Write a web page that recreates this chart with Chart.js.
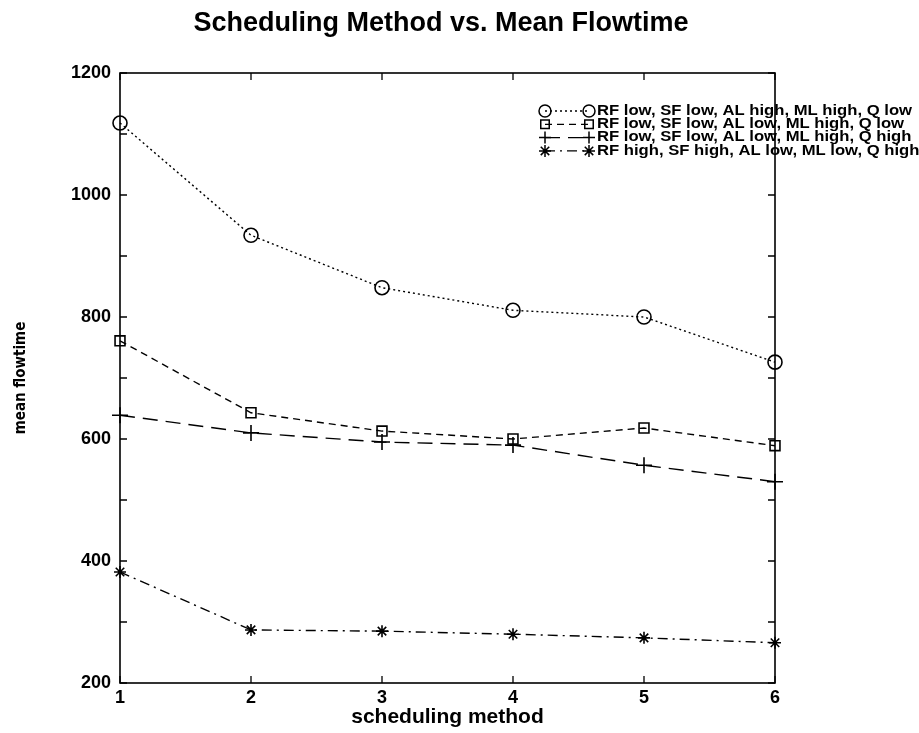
<!DOCTYPE html>
<html>
<head>
<meta charset="utf-8">
<script src="https://cdn.jsdelivr.net/npm/chart.js@4.4.1/dist/chart.umd.min.js"></script>
<style>
  html, body { margin: 0; padding: 0; background: #fff; }
  #wrap { width: 919px; height: 733px; }
</style>
</head>
<body>
<div id="wrap"><canvas id="c" width="919" height="733"></canvas></div>
<script>
// ---- data ----
const chartTitle = 'Scheduling Method vs. Mean Flowtime';
const methods = [1, 2, 3, 4, 5, 6];
const seriesLabels = [
  "RF low, SF low, AL high, ML high, Q low",
  "RF low, SF low, AL low, ML high, Q low",
  "RF low, SF low, AL low, ML high, Q high",
  "RF high, SF high, AL low, ML low, Q high"
];
const flowA = [1118, 934, 848, 811, 800, 726]; // circles, dotted
const flowB = [761, 643, 613, 600, 618, 589];  // squares, dashed
const flowC = [639, 610, 595, 590, 557, 530];  // plus, long dash
const flowD = [382, 287, 285, 280, 274, 266];  // stars, dash-dot
const yTickValues = [200, 400, 600, 800, 1000, 1200];

const FONT = "'Liberation Sans', Arial, Helvetica, sans-serif";

function pts(arr) { return methods.map((m, i) => ({ x: m, y: arr[i] })); }

const styles = [
  { pointStyle: 'circle', dash: [2, 3], radius: 7 },
  { pointStyle: 'rect', dash: [7, 5], radius: 7 },
  { pointStyle: 'cross', dash: [15, 8], radius: 8 },
  { pointStyle: 'star', dash: [10, 5, 2, 5], radius: 6 }
];
const values = [flowA, flowB, flowC, flowD];

const datasets = values.map((v, i) => ({
  label: seriesLabels[i],
  data: pts(v),
  borderColor: '#000',
  backgroundColor: 'rgba(0,0,0,0)',
  borderWidth: 1.4,
  borderDash: styles[i].dash,
  pointStyle: styles[i].pointStyle,
  pointRadius: styles[i].radius,
  pointBorderWidth: 1.6,
  pointBorderColor: '#000',
  pointBackgroundColor: 'rgba(0,0,0,0)',
  tension: 0,
  clip: false
}));

// frame + inward ticks drawn through the scales
const framePlugin = {
  id: 'frameTicks',
  afterDatasetsDraw(chart) {
    const { ctx, chartArea: a, scales } = chart;
    ctx.save();
    ctx.strokeStyle = '#000';
    ctx.lineWidth = 1.6;
    ctx.setLineDash([]);
    ctx.strokeRect(a.left, a.top, a.right - a.left, a.bottom - a.top);
    ctx.lineWidth = 1.3;
    const L = 7;
    scales.y.ticks.forEach(t => {
      const y = scales.y.getPixelForValue(t.value);
      ctx.beginPath();
      ctx.moveTo(a.left, y); ctx.lineTo(a.left + L, y);
      ctx.moveTo(a.right, y); ctx.lineTo(a.right - L, y);
      ctx.stroke();
    });
    scales.x.ticks.forEach(t => {
      const x = scales.x.getPixelForValue(t.value);
      ctx.beginPath();
      ctx.moveTo(x, a.bottom); ctx.lineTo(x, a.bottom - L);
      ctx.moveTo(x, a.top); ctx.lineTo(x, a.top + L);
      ctx.stroke();
    });
    ctx.restore();
  }
};

// title + MATLAB-style legend overlapping the right frame
const overlayPlugin = {
  id: 'overlay',
  afterDraw(chart) {
    const ctx = chart.ctx;
    ctx.save();
    // title
    ctx.fillStyle = '#000';
    ctx.font = "bold 27px " + FONT;
    ctx.textAlign = 'center';
    ctx.textBaseline = 'alphabetic';
    ctx.fillText(chartTitle, 441, 31);

    // legend
    const x0 = 545, x1 = 589, tx = 597, y0 = 111, dy = 13.3;
    ctx.textAlign = 'left';
    ctx.font = "bold 14px " + FONT;
    const sx = 315 / ctx.measureText(seriesLabels[0]).width;
    chart.data.datasets.forEach((ds, i) => {
      const y = y0 + i * dy;
      ctx.strokeStyle = '#000';
      ctx.lineWidth = 1.3;
      ctx.setLineDash(ds.borderDash);
      ctx.beginPath();
      ctx.moveTo(x0, y); ctx.lineTo(x1, y);
      ctx.stroke();
      ctx.setLineDash([]);
      const opts = { pointStyle: ds.pointStyle, radius: Math.min(ds.pointRadius, 6), rotation: 0, borderWidth: 1.5 };
      ctx.fillStyle = 'rgba(0,0,0,0)';
      ctx.lineWidth = 1.5;
      Chart.helpers.drawPoint(ctx, opts, x0, y);
      Chart.helpers.drawPoint(ctx, opts, x1, y);
      ctx.fillStyle = '#000';
      ctx.textBaseline = 'middle';
      ctx.save();
      ctx.translate(tx, y);
      ctx.scale(sx, 1);
      ctx.fillText(ds.label, 0, 0);
      ctx.restore();
    });
    ctx.restore();
  }
};

new Chart(document.getElementById('c'), {
  type: 'line',
  data: { datasets },
  options: {
    responsive: false,
    animation: false,
    layout: { padding: { left: 0, right: 144, top: 73, bottom: 0 } },
    plugins: {
      legend: { display: false },
      tooltip: { enabled: false },
      title: { display: false }
    },
    scales: {
      x: {
        type: 'linear',
        min: 1, max: 6,
        grid: { display: false, drawTicks: false },
        border: { display: false },
        ticks: { stepSize: 1, color: '#000', padding: 4, font: { family: FONT, size: 18, weight: 'bold' } },
        title: {
          display: true, text: 'scheduling method', color: '#000',
          font: { family: FONT, size: 21, weight: 'bold' },
          padding: { top: 0, bottom: 3 }
        },
        afterFit(s) { s.height = 50; }
      },
      y: {
        type: 'linear',
        min: 200, max: 1200,
        grid: { display: false, drawTicks: false },
        border: { display: false },
        ticks: {
          stepSize: 100, autoSkip: false, color: '#000', padding: 9,
          font: { family: FONT, size: 18, weight: 'bold' },
          callback: v => yTickValues.includes(v) ? String(v) : ''
        },
        title: {
          display: true, text: 'mean flowtime', color: '#000',
          font: { family: "'Liberation Sans Narrow', 'DejaVu Sans Condensed', " + FONT, size: 15, weight: 'bold' },
          padding: { top: 12, bottom: 0 }
        },
        afterFit(s) { s.width = 120; }
      }
    }
  },
  plugins: [framePlugin, overlayPlugin]
});
</script>
</body>
</html>
